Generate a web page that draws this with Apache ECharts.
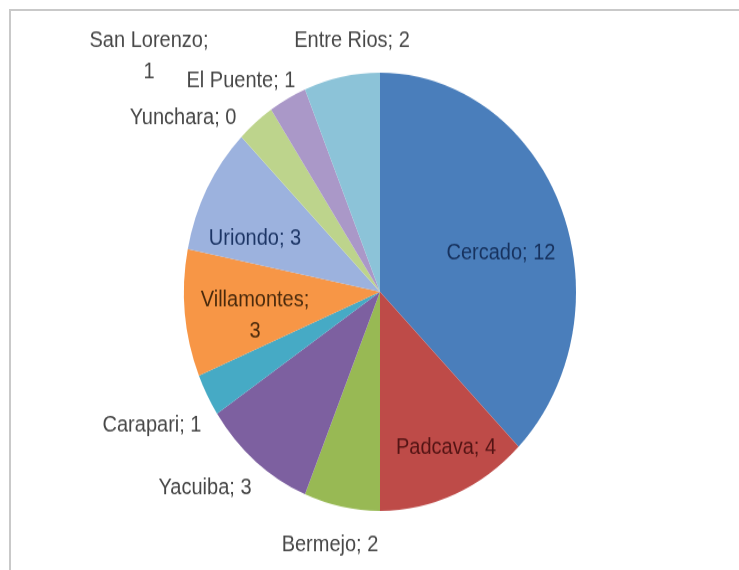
<!DOCTYPE html>
<html>
<head>
<meta charset="utf-8">
<script src="https://cdn.jsdelivr.net/npm/echarts@6/dist/echarts.min.js"></script>
<style>
    html, body { margin: 0; padding: 0; background: #fff; }
    #page { position: relative; width: 739px; height: 570px; overflow: hidden; background: #fff; }
    #frame { position: absolute; left: 9px; top: 9px; width: 800px; height: 700px; border: 2px solid #c9c9c9; }
    /* the original picture is stretched vertically, so the whole chart is too */
    #main { position: absolute; left: 0; top: 0; width: 739px; height: 510px;
            transform: scaleY(1.118); transform-origin: 0 0; }
</style>
</head>
<body>
<div id="page">
    <div id="frame"></div>
    <div id="main"></div>
</div>
<script>
    // municipios y cantidades
    var names  = ['Cercado', 'Padcava', 'Bermejo', 'Yacuiba', 'Carapari', 'Villamontes',
                  'Uriondo', 'Yunchara', 'San Lorenzo', 'El Puente', 'Entre Rios'];
    var values = [12, 4, 2, 3, 1, 3, 3, 0, 1, 1, 2];

    var colors = ['#4a7ebb', '#be4b48', '#98b954', '#7d60a0', '#46aac5', '#f79646',
                  '#9cb2de', '#d99694', '#bdd48c', '#aa98c8', '#8cc3d8'];
    // etiquetas dentro del sector (con color oscuro)
    var insideColor = {
        'Cercado': '#17325e',
        'Padcava': '#531414',
        'Villamontes': '#4a2a0c',
        'Uriondo': '#1c3565'
    };
    // nombres que Excel partio en dos lineas
    var wrapped = ['Villamontes', 'San Lorenzo'];
    // donde Excel dejo cada etiqueta (centro del texto, en px del grafico)
    var labelPos = [[501, 226], [446, 400], [330, 487], [205, 436], [152, 380], [255, 282],
                    [255, 213], [183, 105], [149, 50], [241, 72], [352, 36]];

    var myChart = echarts.init(document.getElementById('main'));

    var data = [];
    for (var i = 0; i < names.length; i++) {
        var item = {
            name: names[i],
            value: values[i],
            itemStyle: { color: colors[i] }
        };
        if (insideColor[names[i]]) {
            item.label = { position: 'inside', color: insideColor[names[i]] };
        }
        data.push(item);
    }

    var option = {
        animation: false,
        series: [
            {
                type: 'pie',
                center: [380, 261],
                radius: 196,
                startAngle: 90,
                clockwise: true,
                avoidLabelOverlap: false,
                minShowLabelAngle: -1,
                data: data,
                label: {
                    show: true,
                    position: 'outside',
                    fontFamily: 'Liberation Sans',
                    fontSize: 20,
                    color: '#474747',
                    lineHeight: 28,
                    align: 'center',
                    formatter: function (p) {
                        var sep = wrapped.indexOf(p.name) >= 0 ? ';\n' : '; ';
                        return p.name + sep + p.value;
                    }
                },
                labelLine: { show: false, length: 14, length2: 0 },
                labelLayout: function (params) {
                    var pos = labelPos[params.dataIndex];
                    return {
                        x: pos[0],
                        y: pos[1],
                        align: 'center',
                        verticalAlign: 'middle',
                        hideOverlap: false
                    };
                },
                emphasis: { disabled: true }
            }
        ]
    };
    myChart.setOption(option);
</script>
</body>
</html>
